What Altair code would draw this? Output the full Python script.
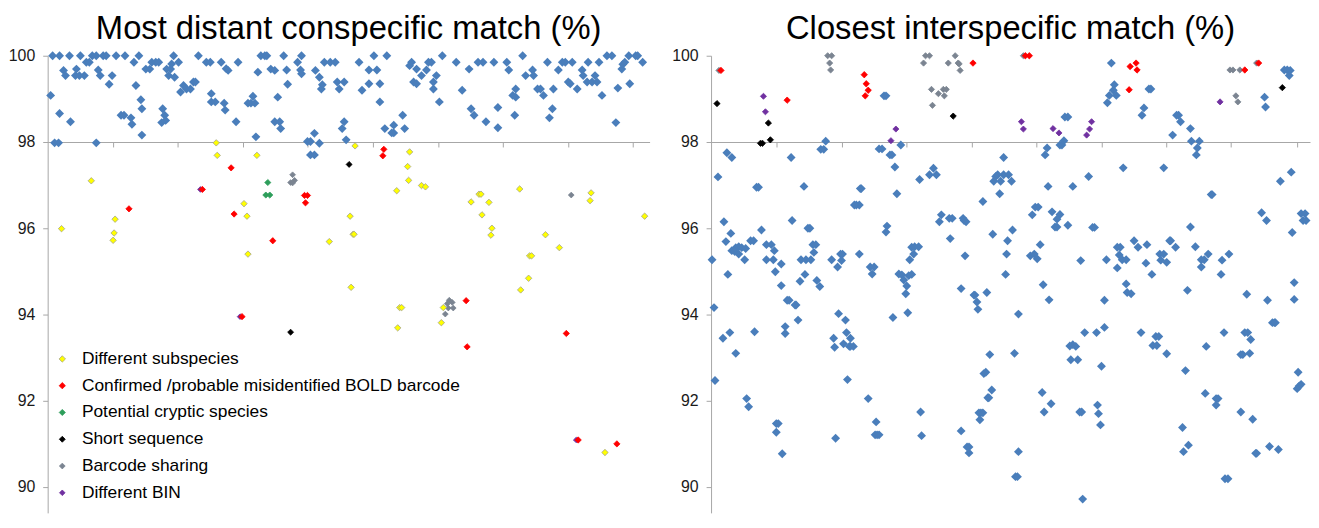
import altair as alt
import pandas as pd

# ---------------- categories / legend ----------------
CATEGORIES = [
    "Different subspecies",
    "Confirmed /probable misidentified BOLD barcode",
    "Potential cryptic species",
    "Short sequence",
    "Barcode sharing",
    "Different BIN",
]
FILLS = ["#ffff00", "#ff0000", "#2e9e5b", "#000000", "#7b8491", "#7030a0"]
STROKES = ["#a4a488", "#ff0000", "#2e9e5b", "#000000", "#7b8491", "#7030a0"]
SIZES_LEFT = [42, 32, 52, 28, 52, 42]
SIZES_RIGHT = [42, 38, 52, 28, 46, 34]
BLUE = "#4a7ebb"

Y_TICKS = [90, 92, 94, 96, 98, 100]
X_TICKS_LEFT = [65.6, 131.2, 196.8, 262.4, 328.0, 393.6, 459.2, 524.8, 590.4]
X_TICKS_RIGHT = [66, 132, 198, 264, 329, 395, 461, 526, 593]

TITLE_LEFT = "Most distant conspecific match (%)"
TITLE_RIGHT = "Closest interspecific match (%)"

# ---------------- left panel data (index, %) ----------------
LEFT_OTHER = [
    (3, 99.08), (5, 100), (12, 100), (7, 97.98), (11, 97.98), (12, 98.66), (16, 99.66), (18, 99.54),
    (22, 100), (23, 98.47), (29, 99.69), (28, 99.54), (32, 99.54), (37, 99.54), (33, 100), (39, 99.85),
    (42, 99.85), (45, 100), (49, 100), (49, 97.98), (51, 99.67), (53, 99.54), (56, 100), (59, 100),
    (65, 99.54), (62, 99.34), (69, 100), (74, 98.62), (77, 98.62), (78, 100), (84, 98.56), (85, 98.41),
    (87, 99.85), (89, 99.31), (92, 100), (94, 98.98), (95, 98.77), (95, 98.16), (99, 99.69), (103, 99.69),
    (105, 99.85), (109, 99.85), (112, 99.85), (116, 98.77), (118, 98.62), (115, 98.45), (119, 98.5),
    (120, 99.69), (124, 99.69), (122, 99.54), (125, 99.81), (127, 100), (132, 99.85), (128, 99.5),
    (134, 99.16), (137, 99.31), (140, 99.23), (144, 99.23), (147, 99.39), (149, 99.39), (152, 100),
    (160, 99.85), (164, 99.85), (165, 99.12), (165, 98.93), (169, 98.93), (175, 99.85), (178, 98.9),
    (179, 98.74), (180, 99.7), (182, 99.66), (190, 98.47), (192, 99.85), (202, 98.9), (205, 98.9),
    (209, 98.9), (207, 99.06), (210, 98.12), (212, 99.62), (215, 100), (219, 100), (221, 100),
    (225, 99.69), (229, 99.66), (232, 99.04), (229, 98.47), (234, 98.47), (235, 98.31), (238, 100),
    (241, 99.67), (242, 99.34), (252, 99.85), (256, 100), (255, 99.67), (256, 99.58), (262, 98.01),
    (265, 98.01), (269, 98.2), (274, 97.97), (265, 97.7), (269, 97.7), (270, 99.66), (274, 99.5),
    (276, 99.23), (277, 99.33),
    (279, 99.85), (285, 99.85), (290, 99.85), (292, 99.39), (299, 99.39), (294, 99.23), (299, 98.47),
    (297, 98.31), (301, 98.05), (314, 99.85), (324, 99.67), (332, 99.67), (324, 99.35), (317, 99.2),
    (329, 100), (342, 100), (335, 98.93), (335, 99.35), (340, 98.31), (349, 98.39), (349, 98.21),
    (347, 98.21), (358, 98.62), (360, 98.31), (367, 99.85), (365, 99.77), (372, 99.69), (377, 99.54),
    (369, 99.39), (372, 99.35), (384, 99.85), (387, 99.85), (382, 99.67), (392, 99.54), (389, 99.39),
    (389, 99.23), (398, 100), (395, 98.93), (412, 99.85), (418, 99.2), (425, 99.69), (427, 98.77),
    (430, 98.62), (434, 99.85), (439, 99.85), (442, 98.47), (450, 99.85), (454, 98.8), (454, 98.33),
    (463, 99.85), (465, 99.67), (469, 99.08), (472, 99.23), (472, 99.04), (471, 98.62), (479, 100),
    (482, 99.54), (489, 99.67), (490, 99.54), (494, 99.23), (497, 99.23), (500, 99.08), (504, 99.85),
    (509, 98.77), (506, 98.56), (510, 99.23), (515, 99.67), (519, 99.85), (522, 99.85), (525, 99.39),
    (527, 99.35), (534, 99.23), (529, 99.85), (539, 99.67), (540, 99.54), (544, 99.39), (549, 99.39),
    (552, 99.54), (554, 99.39), (545, 99.85), (556, 99.85), (559, 99.08), (564, 100), (569, 100),
    (573, 98.45), (575, 99.25), (579, 99.69), (580, 99.8), (582, 99.85), (587, 99.35), (586, 100),
    (593, 100), (595, 100), (600, 99.85),
]

LEFT_SUBSPECIES = [
    (14, 95.99), (44, 97.10), (68, 96.21), (67, 95.89), (66, 95.72), (170, 97.98), (171, 97.69),
    (211, 97.69), (198, 96.57), (201, 96.28), (202, 95.40), (284, 95.69), (310, 97.91), (365, 97.77),
    (363, 97.43), (364, 97.11), (352, 96.87), (377, 96.99), (381, 96.96), (305, 96.28), (308, 95.86),
    (309, 95.86), (306, 94.63), (427, 96.61), (435, 96.79), (437, 96.79), (445, 96.60), (438, 96.31),
    (448, 96.0), (447, 95.84), (476, 96.91), (548, 96.82), (547, 96.64), (602, 96.28), (502, 95.85),
    (516, 95.55), (486, 95.36), (488, 95.36), (485, 94.84), (477, 94.57), (355, 94.16), (357, 94.16),
    (353, 93.69), (397, 93.81), (399, 94.16), (562, 90.80),
]
LEFT_MISID = [
    (82, 96.45), (156, 96.90), (185, 97.40), (188, 96.33), (196, 93.95), (259, 96.76), (262, 96.76),
    (260, 96.59), (227, 95.71), (339, 97.83), (338, 97.68), (422, 94.32), (523, 93.56), (423, 93.25),
    (535, 91.09), (574, 91.0),
]
LEFT_CRYPTIC = [(222, 97.06), (220, 96.77), (224, 96.77)]
LEFT_SHORT = [(245, 93.59), (304, 97.48)]
LEFT_SHARING = [
    (247, 97.24), (245, 97.06), (249, 97.11), (247, 97.05), (528, 96.77), (403, 94.25), (405, 94.33),
    (408, 94.28), (404, 94.15), (409, 94.15), (401, 94.01),
]
LEFT_BIN = [(154, 96.90), (194, 93.95), (533, 91.09)]

# ---------------- right panel data (index, %) ----------------
RIGHT_OTHER = [
    (16, 97.75), (21, 97.64), (81, 97.64), (116, 98.02), (111, 97.83), (114, 97.83), (175, 99.07),
    (177, 99.07), (170, 97.84), (173, 97.84), (181, 97.70), (183, 97.70), (192, 97.93),
    (296, 97.64), (340, 97.86), (338, 97.70), (358, 98.58), (361, 98.58), (357, 98.03), (355, 97.93),
    (353, 97.93), (405, 99.83), (408, 99.33), (407, 99.20), (403, 99.08), (410, 99.08), (401, 98.91),
    (443, 99.23), (445, 99.23), (438, 98.79), (436, 98.62), (473, 98.62), (471, 98.62), (475, 98.47),
    (467, 98.16), (485, 98.31), (486, 98.02), (494, 98.02), (492, 97.86), (491, 97.70), (560, 99.04),
    (561, 98.81), (580, 99.67), (583, 99.67), (586, 99.66), (585, 99.54),
    (7, 97.19), (46, 96.95), (48, 96.95), (94, 96.97), (186, 97.42), (188, 96.80), (147, 96.54),
    (150, 96.54), (145, 96.54), (152, 96.92), (151, 96.92), (211, 97.13), (221, 97.24), (225, 97.39),
    (228, 97.24), (286, 97.09), (288, 97.2), (275, 96.62), (13, 96.15), (82, 96.18), (98, 96.0),
    (100, 96.0), (51, 95.96), (20, 95.88), (15, 95.69), (40, 95.71), (43, 95.71), (21, 95.48),
    (25, 95.55), (28, 95.57), (31, 95.55), (35, 95.53), (24, 95.46), (28, 95.40), (34, 95.27),
    (1, 95.27), (17, 94.93), (56, 95.62), (61, 95.62), (64, 95.48), (56, 95.27), (63, 95.27),
    (71, 95.17), (65, 94.99), (71, 94.67), (103, 95.62), (106, 95.62), (104, 95.44), (91, 95.27),
    (96, 95.27), (101, 95.27), (95, 94.93), (90, 94.77), (107, 94.79), (110, 94.65), (77, 94.33),
    (79, 94.33), (85, 94.22), (86, 94.22), (88, 93.87), (75, 93.72), (75, 93.56), (19, 93.58),
    (44, 93.60), (3, 94.16), (12, 93.45), (122, 95.27), (131, 95.40), (133, 95.40), (128, 95.10),
    (132, 95.25), (150, 95.40), (161, 95.10), (165, 95.10), (163, 94.94), (178, 96.05), (177, 95.91),
    (129, 94.02), (136, 93.87), (137, 93.58), (124, 93.45), (141, 93.45), (190, 94.94), (193, 94.92),
    (195, 94.80), (198, 94.66), (197, 94.48), (200, 94.90), (203, 94.93), (201, 95.27), (205, 95.40),
    (203, 95.56), (206, 95.57), (210, 95.57), (184, 93.93), (199, 94.04), (231, 96.15), (233, 96.31),
    (241, 96.23), (244, 96.23), (242, 95.76), (255, 96.23), (256, 96.18), (258, 96.15), (257, 95.36),
    (253, 94.60), (266, 94.45), (267, 94.45), (269, 94.29), (270, 94.12), (279, 94.51), (285, 95.86),
    (290, 97.24), (293, 97.09), (296, 97.24), (301, 97.24), (304, 97.09), (292, 96.80), (341, 96.97),
    (366, 96.97), (382, 97.20), (417, 97.40), (458, 97.40), (506, 96.78), (507, 96.78), (576, 97.09),
    (587, 97.30), (328, 96.49), (331, 96.49), (325, 96.31), (345, 96.38), (353, 96.32), (350, 96.21),
    (348, 96.03), (350, 96.03), (361, 96.07), (386, 96.02), (388, 96.02), (305, 95.96), (300, 95.71),
    (299, 95.40), (298, 94.93), (333, 95.62), (323, 95.36), (327, 95.40), (330, 95.29), (336, 94.69),
    (342, 94.34), (311, 94.01), (374, 95.25), (398, 94.33), (400, 95.27), (411, 95.56), (414, 95.56),
    (413, 95.38), (416, 95.27), (420, 95.27), (411, 95.08), (428, 95.71), (432, 95.56), (441, 95.62),
    (440, 95.19), (446, 94.93), (420, 94.71), (421, 94.51), (425, 94.48), (454, 95.40), (458, 95.40),
    (455, 95.26), (461, 95.21), (464, 95.71), (465, 95.71), (470, 95.56), (485, 96.03), (490, 95.57),
    (496, 95.27), (499, 95.27), (496, 95.10), (503, 95.40), (517, 95.26), (524, 95.40), (516, 94.93),
    (482, 94.56), (557, 96.36), (562, 96.18), (588, 95.90), (597, 96.34), (601, 96.34), (599, 96.18),
    (602, 96.18), (590, 94.74), (590, 94.35), (542, 94.47), (563, 94.33), (568, 93.81), (570, 93.81),
    (571, 93.81), (398, 93.70), (378, 93.58), (390, 93.58), (435, 93.58), (450, 93.49), (453, 93.49),
    (519, 93.58), (540, 93.58), (543, 93.58),
    (4, 92.47), (25, 93.10), (36, 92.05), (38, 91.86), (66, 91.47), (68, 91.47), (66, 91.27),
    (72, 90.77), (125, 93.24), (134, 93.32), (140, 93.26), (141, 93.26), (144, 93.26), (138, 92.49),
    (126, 91.13), (159, 92.05), (167, 91.51), (166, 91.21), (168, 91.21), (170, 91.21), (212, 91.74),
    (213, 91.19), (253, 91.30), (259, 90.93), (261, 90.93), (261, 90.79), (271, 91.72), (273, 91.72),
    (275, 91.72), (272, 91.56), (276, 92.63), (278, 92.66), (280, 92.07), (281, 92.07), (284, 92.25),
    (282, 93.07),
    (447, 93.28), (451, 93.28), (363, 93.27), (366, 93.30), (369, 93.26), (364, 92.95), (371, 92.95),
    (395, 92.80), (307, 93.10), (461, 93.09), (480, 92.70), (501, 93.26), (538, 93.07), (536, 93.07),
    (545, 93.10), (546, 93.42), (594, 92.66), (593, 92.28), (595, 92.34), (597, 92.38), (335, 92.19),
    (344, 91.93), (337, 91.74), (373, 91.74), (375, 91.74), (391, 91.90), (392, 91.70), (394, 91.44),
    (500, 92.17), (511, 92.05), (513, 92.05), (511, 91.90), (536, 91.74), (548, 91.57), (477, 91.38),
    (483, 90.97), (478, 90.82), (311, 90.82), (308, 90.24), (310, 90.24), (376, 89.72), (520, 90.19),
    (523, 90.19), (551, 90.78), (552, 90.78), (565, 90.94), (574, 90.87),
]
RIGHT_MISID = [
    (10, 99.66), (77, 98.97), (155, 99.56), (157, 99.35), (159, 99.2), (156, 99.07), (265, 99.83),
    (318, 100), (322, 100), (424, 99.75), (430, 99.83), (431, 99.67), (423, 99.21), (540, 99.67),
    (554, 99.83),
]
RIGHT_SHORT = [(6, 98.89), (58, 98.44), (50, 97.97), (52, 97.97), (60, 98.05), (245, 98.6), (578, 99.26)]
RIGHT_BIN = [
    (53, 99.06), (55, 98.70), (187, 98.30), (182, 98.03), (314, 98.47), (316, 98.30), (346, 98.31),
    (352, 98.21), (380, 98.16), (383, 98.3), (385, 98.47), (515, 98.93),
]
RIGHT_SHARING = [
    (8, 99.66), (118, 100), (122, 100), (120, 99.83), (121, 99.67), (215, 99.83), (217, 100), (221, 100),
    (223, 99.22), (230, 99.12), (224, 98.85), (235, 99.22), (238, 99.22), (236, 99.07), (240, 99.83),
    (247, 100), (250, 99.83), (251, 99.81), (252, 99.66), (525, 99.67), (528, 99.67), (535, 99.67),
    (531, 99.07), (533, 98.93), (552, 99.83), (316, 100),
]


def frame(pairs, cat):
    d = pd.DataFrame(pairs, columns=["idx", "pct"])
    d["category"] = cat
    return d


left_other = frame(LEFT_OTHER, "Other")
left_col = pd.concat([
    frame(LEFT_SHARING, CATEGORIES[4]),
    frame(LEFT_BIN, CATEGORIES[5]),
    frame(LEFT_CRYPTIC, CATEGORIES[2]),
    frame(LEFT_SUBSPECIES, CATEGORIES[0]),
    frame(LEFT_MISID, CATEGORIES[1]),
    frame(LEFT_SHORT, CATEGORIES[3]),
], ignore_index=True)

right_other = frame(RIGHT_OTHER, "Other")
right_col = pd.concat([
    frame(RIGHT_SHARING, CATEGORIES[4]),
    frame(RIGHT_BIN, CATEGORIES[5]),
    frame(RIGHT_MISID, CATEGORIES[1]),
    frame(RIGHT_SHORT, CATEGORIES[3]),
], ignore_index=True)

FONT = "Liberation Sans"
AXIS_GRAY = "#a6a6a6"
Y_DOMAIN = [89.4, 100]
PLOT_H = 461
X_AXIS_OFFSET = -round((98 - Y_DOMAIN[0]) / (Y_DOMAIN[1] - Y_DOMAIN[0]) * PLOT_H)


def y_enc():
    return alt.Y(
        "pct:Q",
        scale=alt.Scale(domain=Y_DOMAIN, nice=False, zero=False),
        axis=alt.Axis(values=Y_TICKS, format="d", title=None, grid=False, tickSize=5,
                      labelFontSize=16, labelFont=FONT, labelColor="#1a1a1a", labelPadding=8,
                      domainColor=AXIS_GRAY, tickColor=AXIS_GRAY),
    )


def x_enc(width, ticks):
    return alt.X(
        "idx:Q",
        scale=alt.Scale(domain=[0, width], nice=False, zero=False),
        axis=alt.Axis(values=ticks, labels=False, title=None, grid=False, tickSize=5,
                      offset=X_AXIS_OFFSET, domainColor=AXIS_GRAY, tickColor=AXIS_GRAY),
    )


def panel(other, col, width, domain_w, ticks, title, sizes, legend):
    base_blue = alt.Chart(other).mark_point(
        shape="diamond", filled=True, size=80, color=BLUE, opacity=1
    ).encode(x=x_enc(domain_w, ticks), y=y_enc())
    colored = alt.Chart(col).mark_point(
        shape="diamond", filled=True, opacity=1, strokeWidth=0.8
    ).encode(
        x=alt.X("idx:Q"),
        y=alt.Y("pct:Q"),
        color=alt.Color("category:N", scale=alt.Scale(domain=CATEGORIES, range=FILLS), legend=legend),
        stroke=alt.Stroke("category:N", scale=alt.Scale(domain=CATEGORIES, range=STROKES), legend=None),
        size=alt.Size("category:O", scale=alt.Scale(domain=CATEGORIES, range=sizes), legend=None),
    )
    return alt.layer(base_blue, colored).properties(
        width=width,
        height=PLOT_H,
        title=alt.TitleParams(title, fontSize=33, font=FONT, fontWeight="normal", color="#000000",
                              anchor="middle", frame="group", offset=2),
    )


legend = alt.Legend(
    title=None, orient="none", legendX=6, legendY=297, values=CATEGORIES,
    symbolType="diamond", symbolSize=40, symbolStrokeWidth=0.8, labelFontSize=17.5, labelFont=FONT,
    labelColor="#000000", labelLimit=600, labelOffset=11, rowPadding=8, padding=0,
)

left = panel(left_other, left_col, 607, 607, X_TICKS_LEFT, TITLE_LEFT, SIZES_LEFT, legend)
right = panel(right_other, right_col, 604, 606, X_TICKS_RIGHT, TITLE_RIGHT, SIZES_RIGHT, None)

chart = alt.hconcat(left, right, spacing=22).resolve_scale(
    color="independent", stroke="independent", size="independent"
).properties(padding={"left": 0, "top": 3, "right": 0, "bottom": 0}).configure_view(stroke=None)

chart.save("out.html", embed_options={"renderer": "svg", "actions": False})
